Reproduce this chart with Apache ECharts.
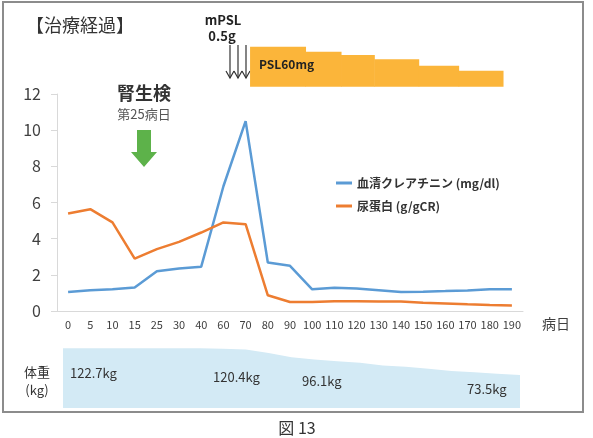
<!DOCTYPE html>
<html>
<head>
<meta charset="utf-8">
<script src="https://cdn.jsdelivr.net/npm/echarts@6/dist/echarts.min.js"></script>
<style>
  html, body { margin: 0; padding: 0; background: #fff; }
  #view { width: 593px; height: 438px; }
</style>
</head>
<body>
<div id="view"></div>
<script>
// 病日 (categories)
var days = [0, 5, 10, 15, 25, 30, 40, 60, 70, 80, 90, 100, 110, 120, 130, 140, 150, 160, 170, 180, 190];
// 血清クレアチニン (mg/dl)
var creatinine = [1.05, 1.15, 1.2, 1.3, 2.2, 2.35, 2.45, 6.9, 10.5, 2.68, 2.5, 1.2, 1.29, 1.24, 1.15, 1.05, 1.07, 1.1, 1.14, 1.2, 1.2];
// 尿蛋白 (g/gCR)
var proteinuria = [5.39, 5.63, 4.9, 2.9, 3.42, 3.82, 4.34, 4.9, 4.8, 0.87, 0.5, 0.5, 0.54, 0.54, 0.53, 0.52, 0.46, 0.42, 0.37, 0.33, 0.31];
// 体重 (kg)
var weight = [122.7, 122.7, 122.7, 122.7, 122.7, 122.7, 122.7, 121.6, 120.4, 114, 106, 102, 98.6, 96.1, 91, 88.6, 85, 81, 78.5, 76, 73.5];
// PSL taper: change days and dose (mg)
var pslDays = [72, 97, 113, 128, 148, 166, 186];
var pslDose = [60, 52.5, 47.5, 41, 31.5, 24];

var font = '"Noto Sans CJK JP", "Noto Sans", sans-serif';

// day -> position on the category index scale
function dayToPos(d) {
    for (var i = 0; i < days.length - 1; i++) {
        if (d <= days[i + 1]) return i + (d - days[i]) / (days[i + 1] - days[i]);
    }
    return days.length - 1;
}
var pslData = pslDose.map(function(dose, i) {
    return [dayToPos(pslDays[i]), dayToPos(pslDays[i + 1]), dose];
});

function arrowDown(x) {
    return [
        {type: 'polyline', shape: {points: [[x, 45], [x, 78]]}, style: {stroke: '#333', lineWidth: 1.2}},
        {type: 'polyline', shape: {points: [[x - 4, 71], [x, 78], [x + 4, 71]]}, style: {stroke: '#333', lineWidth: 1.2, fill: null}}
    ];
}

var chart = echarts.init(document.getElementById('view'));
var option = {
    animation: false,
    textStyle: {fontFamily: font},
    grid: [
        {left: 57, right: 70, top: 94, bottom: 127},
        {left: 57, right: 70, top: 46.7, height: 40},
        {left: 63, right: 73, top: 348, bottom: 30}
    ],
    legend: {
        orient: 'vertical', left: 331, top: 172, itemGap: 11,
        icon: 'rect', itemWidth: 16, itemHeight: 3,
        textStyle: {fontSize: 12, fontWeight: 'bold', color: '#333', fontFamily: font},
        data: ['血清クレアチニン (mg/dl)', '尿蛋白 (g/gCR)']
    },
    xAxis: [
        {
            type: 'category', data: days, gridIndex: 0, boundaryGap: true,
            axisLine: {lineStyle: {color: '#d9d9d9'}},
            axisTick: {length: 4, lineStyle: {color: '#d9d9d9'}},
            axisLabel: {fontSize: 11, color: '#404040', margin: 8, interval: 0}
        },
        {type: 'value', gridIndex: 1, min: -0.5, max: 20.5, show: false},
        {type: 'category', data: days, gridIndex: 2, boundaryGap: false, show: false}
    ],
    yAxis: [
        {
            type: 'value', gridIndex: 0, min: 0, max: 12, interval: 2,
            axisLine: {show: true, lineStyle: {color: '#d9d9d9'}},
            axisTick: {show: true, length: 6, lineStyle: {color: '#d9d9d9'}},
            axisLabel: {fontSize: 16, color: '#404040', margin: 16},
            splitLine: {show: false}
        },
        {type: 'value', gridIndex: 1, min: 0, max: 60, show: false},
        {type: 'value', gridIndex: 2, min: 13, max: 123, show: false}
    ],
    series: [
        {
            name: '血清クレアチニン (mg/dl)', type: 'line', data: creatinine,
            xAxisIndex: 0, yAxisIndex: 0, showSymbol: false, symbol: 'none',
            color: '#5B9BD5', lineStyle: {width: 2.5, color: '#5B9BD5'}
        },
        {
            name: '尿蛋白 (g/gCR)', type: 'line', data: proteinuria,
            xAxisIndex: 0, yAxisIndex: 0, showSymbol: false, symbol: 'none',
            color: '#ED7D31', lineStyle: {width: 2.5, color: '#ED7D31'}
        },
        {
            name: 'PSL', type: 'custom', xAxisIndex: 1, yAxisIndex: 1, data: pslData,
            renderItem: function(params, api) {
                var p0 = api.coord([api.value(0), api.value(2)]);
                var p1 = api.coord([api.value(1), 0]);
                return {type: 'rect', shape: {x: p0[0], y: p0[1], width: p1[0] - p0[0] + 0.5, height: p1[1] - p0[1]},
                        style: {fill: '#FBB53A'}};
            }
        },
        {
            name: '体重', type: 'line', data: weight, xAxisIndex: 2, yAxisIndex: 2,
            showSymbol: false, symbol: 'none', lineStyle: {width: 0},
            areaStyle: {color: '#D3EAF5', opacity: 1}
        }
    ],
    graphic: [
        {type: 'rect', shape: {x: 3, y: 2, width: 580, height: 410}, style: {fill: null, stroke: '#8c8c8c', lineWidth: 2}, z: -1},
        {type: 'text', x: 26, y: 25, style: {text: '【治療経過】', font: '18px ' + font, fill: '#333', verticalAlign: 'middle'}},
        {type: 'text', x: 223, y: 20, style: {text: 'mPSL', font: 'bold 13px ' + font, fill: '#222', align: 'center', verticalAlign: 'middle'}},
        {type: 'text', x: 222, y: 36, style: {text: '0.5g', font: 'bold 13px ' + font, fill: '#222', align: 'center', verticalAlign: 'middle'}},
        {type: 'text', x: 259, y: 64, z: 10, style: {text: 'PSL60mg', font: 'bold 12px ' + font, fill: '#222', verticalAlign: 'middle'}},
        {type: 'text', x: 144, y: 93, style: {text: '腎生検', font: 'bold 18px ' + font, fill: '#333', align: 'center', verticalAlign: 'middle'}},
        {type: 'text', x: 144, y: 114, style: {text: '第25病日', font: '13px ' + font, fill: '#555', align: 'center', verticalAlign: 'middle'}},
        {type: 'polygon', shape: {points: [[137, 130], [151, 130], [151, 152], [157, 152], [144, 167], [131, 152], [137, 152]]}, style: {fill: '#5DB24A'}},
        {type: 'text', x: 556, y: 324, style: {text: '病日', font: '14px ' + font, fill: '#404040', align: 'center', verticalAlign: 'middle'}},
        {type: 'text', x: 37, y: 372, style: {text: '体重', font: '13px ' + font, fill: '#333', align: 'center', verticalAlign: 'middle'}},
        {type: 'text', x: 37, y: 390, style: {text: '(kg)', font: '13px ' + font, fill: '#333', align: 'center', verticalAlign: 'middle'}},
        {type: 'text', x: 70, y: 373, z: 10, style: {text: '122.7kg', font: '13px ' + font, fill: '#333', verticalAlign: 'middle'}},
        {type: 'text', x: 213, y: 377, z: 10, style: {text: '120.4kg', font: '13px ' + font, fill: '#333', verticalAlign: 'middle'}},
        {type: 'text', x: 302, y: 381, z: 10, style: {text: '96.1kg', font: '13px ' + font, fill: '#333', verticalAlign: 'middle'}},
        {type: 'text', x: 467, y: 389, z: 10, style: {text: '73.5kg', font: '13px ' + font, fill: '#333', verticalAlign: 'middle'}},
        {type: 'text', x: 297, y: 420, style: {text: '図 13', font: '16px ' + font, fill: '#333', align: 'center'}}
    ].concat(arrowDown(230), arrowDown(238), arrowDown(246))
};
chart.setOption(option);
</script>
</body>
</html>
